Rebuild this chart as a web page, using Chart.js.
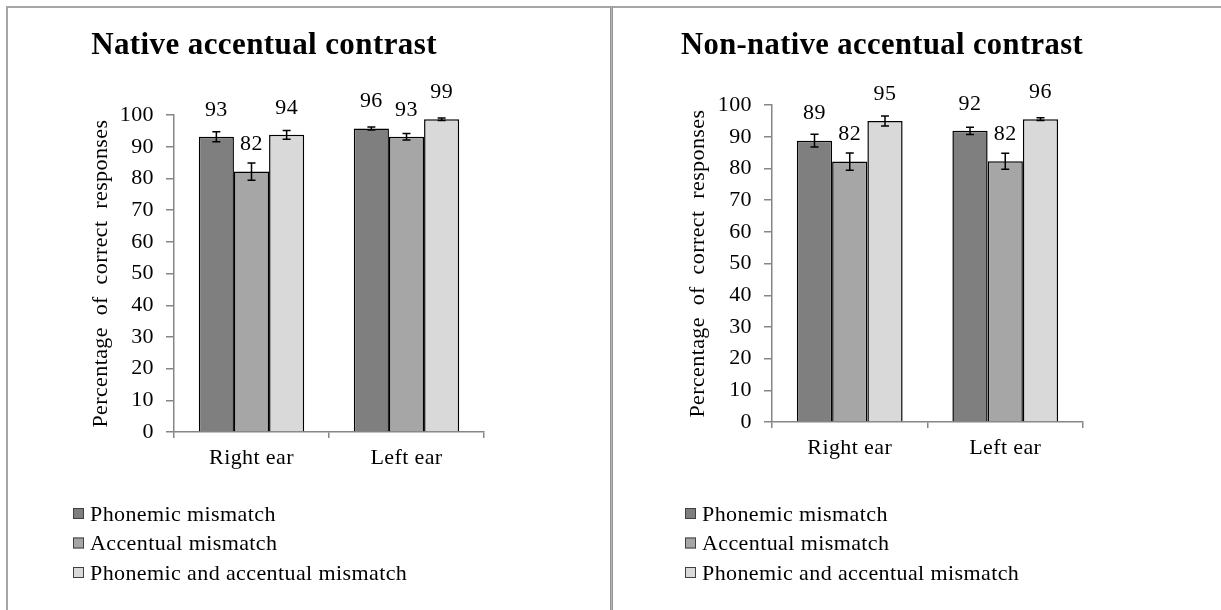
<!DOCTYPE html>
<html lang="en">
<head>
<meta charset="UTF-8">
<title>Accentual contrast</title>
<script src="https://cdn.jsdelivr.net/npm/chart.js@4.4.1/dist/chart.umd.min.js"></script>
<style>
  body { margin: 0; background: #fff; }
  #wrap { position: relative; width: 1221px; height: 610px; overflow: hidden; }
  canvas { position: absolute; top: 0; }
  .line { position: absolute; background: #a6a6a6; z-index: 2; }
</style>
</head>
<body>
<div id="wrap">
  <canvas id="nativeChart" width="610" height="610" style="left:0"></canvas>
  <canvas id="nonNativeChart" width="609" height="610" style="left:612px"></canvas>
  <div class="line" style="left:6px; top:6px; width:1215px; height:2px;"></div>
  <div class="line" style="left:6px; top:6px; width:2px; height:604px;"></div>
  <div class="line" style="left:610px; top:6px; width:3px; height:604px; background:#b4b4b4; border-left:1px solid #959595; border-right:1px solid #959595; box-sizing:border-box;"></div>
</div>

<script>
// --- datos ---
const categories = ['Right ear', 'Left ear'];
const seriesNames = ['Phonemic mismatch', 'Accentual mismatch', 'Phonemic and accentual mismatch'];
const seriesColors = ['#7f7f7f', '#a6a6a6', '#d9d9d9'];

// Native accentual contrast
const nativePhonemic = [93.2, 95.8];
const nativeAccentual = [82.2, 93.2];
const nativeBoth = [93.8, 98.7];
const nativePhonemicErr = [1.6, 0.5];
const nativeAccentualErr = [2.7, 1.0];
const nativeBothErr = [1.4, 0.4];

// Non-native accentual contrast
const nonNativePhonemic = [88.8, 91.9];
const nonNativeAccentual = [82.2, 82.3];
const nonNativeBoth = [95.0, 95.6];
const nonNativePhonemicErr = [2.0, 1.15];
const nonNativeAccentualErr = [2.7, 2.5];
const nonNativeBothErr = [1.6, 0.4];

const yMin = 0, yMax = 100, yStep = 10;

const FONT = '"Liberation Serif", "Times New Roman", serif';
const AXIS = '#868686';
const SPACING = '0.4px';

// espaciado de letras como en Excel
const spacingPlugin = {
    id: 'spacing',
    beforeLayout(chart) { chart.ctx.letterSpacing = SPACING; },
    beforeDraw(chart) { chart.ctx.letterSpacing = SPACING; }
};

// barras de error
const errorBarsPlugin = {
    id: 'errorBars',
    afterDatasetsDraw(chart) {
        const ctx = chart.ctx;
        const yScale = chart.scales.y;
        ctx.save();
        ctx.strokeStyle = '#000';
        ctx.lineWidth = 1.5;
        chart.data.datasets.forEach((ds, i) => {
            chart.getDatasetMeta(i).data.forEach((bar, j) => {
                const v = ds.data[j], e = ds.errors[j];
                const yHi = yScale.getPixelForValue(v + e);
                const yLo = yScale.getPixelForValue(v - e);
                ctx.beginPath();
                ctx.moveTo(bar.x, yHi); ctx.lineTo(bar.x, yLo);
                ctx.moveTo(bar.x - 4, yHi); ctx.lineTo(bar.x + 4, yHi);
                ctx.moveTo(bar.x - 4, yLo); ctx.lineTo(bar.x + 4, yLo);
                ctx.stroke();
            });
        });
        ctx.restore();
    }
};

// etiquetas de valores
const valueLabelsPlugin = {
    id: 'valueLabels',
    afterDatasetsDraw(chart) {
        const ctx = chart.ctx;
        ctx.save();
        ctx.letterSpacing = SPACING;
        ctx.font = '22px ' + FONT;
        ctx.fillStyle = '#000';
        ctx.textAlign = 'center';
        ctx.textBaseline = 'middle';
        chart.data.datasets.forEach((ds, i) => {
            chart.getDatasetMeta(i).data.forEach((bar, j) => {
                ctx.fillText(String(Math.round(ds.data[j])), bar.x, bar.y - 27);
            });
        });
        ctx.restore();
    }
};

// leyenda vertical abajo a la izquierda
const legendPlugin = {
    id: 'sideLegend',
    afterDraw(chart) {
        const ctx = chart.ctx;
        ctx.save();
        ctx.letterSpacing = SPACING;
        ctx.font = '22px ' + FONT;
        ctx.textAlign = 'left';
        ctx.textBaseline = 'middle';
        chart.data.datasets.forEach((ds, i) => {
            const y = 514 + i * 29.5;
            ctx.fillStyle = ds.backgroundColor;
            ctx.fillRect(73, y - 6, 11, 11);
            ctx.strokeStyle = '#404040';
            ctx.lineWidth = 1;
            ctx.strokeRect(73.5, y - 5.5, 10, 10);
            ctx.fillStyle = '#000';
            ctx.fillText(ds.label, 90, y + 1);
        });
        ctx.restore();
    }
};

function makeChart(id, title, series, errors, geo) {
    const datasets = series.map((d, i) => ({
        label: seriesNames[i],
        data: d,
        errors: errors[i],
        backgroundColor: seriesColors[i],
        borderColor: '#000',
        borderWidth: 1.5,
        categoryPercentage: 0.68,
        barPercentage: 1.0
    }));
    return new Chart(document.getElementById(id), {
        type: 'bar',
        data: { labels: categories, datasets: datasets },
        plugins: [spacingPlugin, errorBarsPlugin, valueLabelsPlugin, legendPlugin],
        options: {
            responsive: false,
            animation: false,
            devicePixelRatio: 1,
            layout: { padding: { left: geo.padLeft, right: geo.padRight, top: 0, bottom: geo.padBottom } },
            plugins: {
                legend: { display: false },
                tooltip: { enabled: false },
                title: {
                    display: true,
                    text: title,
                    color: '#000',
                    font: { family: FONT, size: 31, weight: 'bold' },
                    padding: { top: geo.titleTop, bottom: geo.titleBottom }
                }
            },
            scales: {
                x: {
                    afterFit(scale) { scale.height = 40; },
                    grid: { display: true, drawOnChartArea: false, drawTicks: true, tickLength: 6, color: AXIS, lineWidth: 1.5 },
                    border: { color: AXIS, width: 1.5 },
                    ticks: { color: '#000', font: { family: FONT, size: 22 }, padding: 7 }
                },
                y: {
                    min: yMin, max: yMax,
                    afterFit(scale) { scale.width = geo.yWidth; },
                    grid: { display: true, drawOnChartArea: false, drawTicks: true, tickLength: 8, color: AXIS, lineWidth: 1.5 },
                    border: { color: AXIS, width: 1.5 },
                    ticks: { stepSize: yStep, color: '#000', font: { family: FONT, size: 22 }, padding: 12 },
                    title: {
                        display: true,
                        text: 'Percentage  of  correct  responses',
                        color: '#000',
                        font: { family: FONT, size: 22 },
                        padding: { top: geo.yTitlePad, bottom: 0 }
                    }
                }
            }
        }
    });
}

makeChart('nativeChart', 'Native accentual contrast',
    [nativePhonemic, nativeAccentual, nativeBoth],
    [nativePhonemicErr, nativeAccentualErr, nativeBothErr],
    { padLeft: 44, padRight: 126, padBottom: 138, yWidth: 130, yTitlePad: 44, titleTop: 27, titleBottom: 51 });

makeChart('nonNativeChart', 'Non-native accentual contrast',
    [nonNativePhonemic, nonNativeAccentual, nonNativeBoth],
    [nonNativePhonemicErr, nonNativeAccentualErr, nonNativeBothErr],
    { padLeft: 69, padRight: 138, padBottom: 148, yWidth: 91, yTitlePad: 4, titleTop: 27, titleBottom: 41 });
</script>
</body>
</html>
